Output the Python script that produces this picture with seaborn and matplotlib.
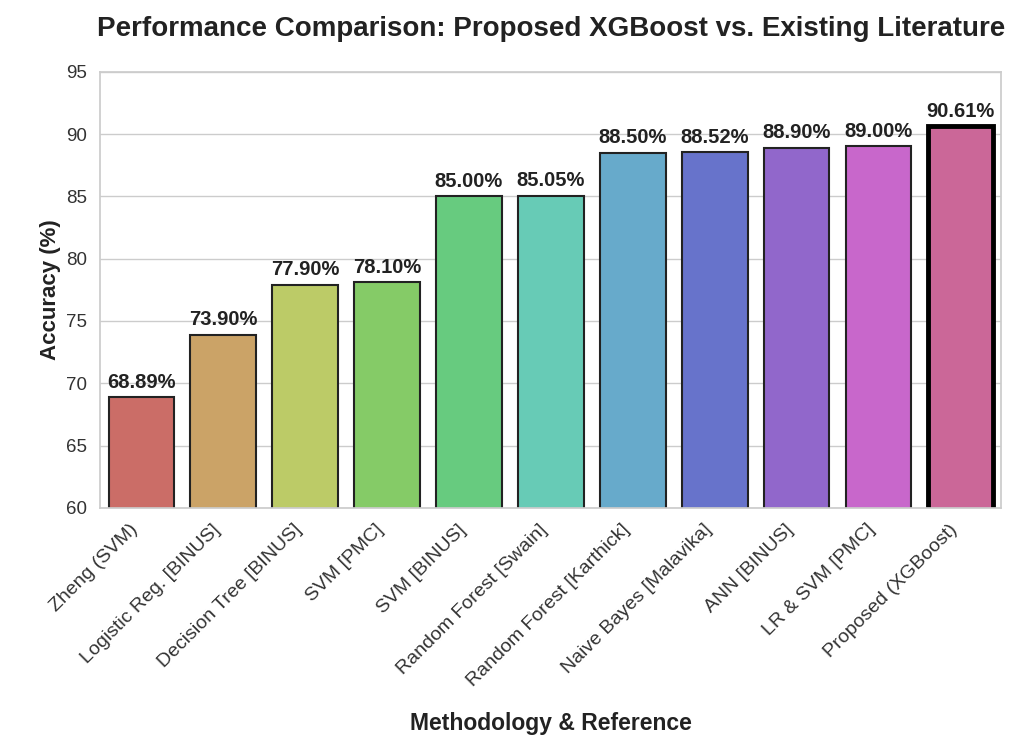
import pandas as pd
import numpy as np
import seaborn as sns
import matplotlib.pyplot as plt

methods = ["Zheng (SVM)", "Logistic Reg. [BINUS]", "Decision Tree [BINUS]", "SVM [PMC]",
           "SVM [BINUS]", "Random Forest [Swain]", "Random Forest [Karthick]",
           "Naive Bayes [Malavika]", "ANN [BINUS]", "LR & SVM [PMC]", "Proposed (XGBoost)"]
accuracy = [68.89, 73.90, 77.90, 78.10, 85.00, 85.05, 88.50, 88.52, 88.90, 89.00, 90.61]

df = pd.DataFrame({"Method": methods, "Accuracy": accuracy})

sns.set_theme(style="whitegrid")
plt.rcParams['font.family'] = ['Liberation Sans', 'DejaVu Sans']

fig, ax = plt.subplots(figsize=(10.24, 7.47), dpi=100)
sns.barplot(data=df, x="Method", y="Accuracy", hue="Method", palette="hls",
            legend=False, edgecolor="#222222", linewidth=1.5, ax=ax)

# highlight the proposed model
ax.patches[-1].set_edgecolor("black")
ax.patches[-1].set_linewidth(3.5)

for i, v in enumerate(accuracy):
    ax.text(i, v + 0.45, f"{v:.2f}%", ha="center", va="bottom",
            fontsize=14.5, fontweight="bold", color="#222222")

ax.set_ylim(60, 95)
ax.grid(axis="x", visible=False)
ax.set_title("Performance Comparison: Proposed XGBoost vs. Existing Literature",
             fontsize=20, fontweight="bold", pad=26, color="#222222")
ax.set_xlabel("Methodology & Reference", fontsize=16.5, fontweight="bold", labelpad=16, color="#222222")
ax.set_ylabel("Accuracy (%)", fontsize=16, fontweight="bold", color="#222222")
plt.xticks(rotation=45, ha="right", fontsize=14, color="#333333")
plt.yticks(fontsize=13.5, color="#333333")

fig.subplots_adjust(left=0.098, right=0.978, top=0.904, bottom=0.32)
fig.savefig("out.png", dpi=100)
